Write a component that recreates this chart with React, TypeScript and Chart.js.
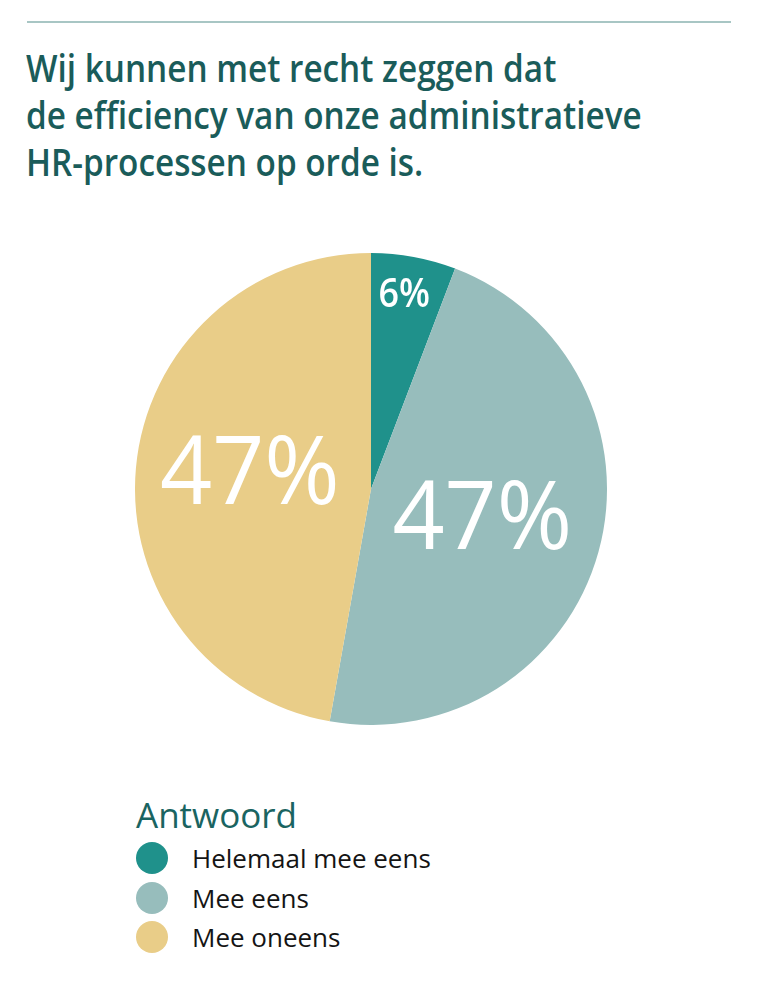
import React, { useEffect, useRef } from "react";
import { Chart, registerables } from "chart.js";

Chart.register(...registerables);

const titleLines = [
  "Wij kunnen met recht zeggen dat",
  "de efficiency van onze administratieve",
  "HR-processen op orde is.",
];
const legendTitle = "Antwoord";
const categories = ["Helemaal mee eens", "Mee eens", "Mee oneens"];
const values = [5.8, 47.0, 47.2];
const valueLabels = ["6%", "47%", "47%"];
const colors = ["#1F918B", "#97BDBC", "#E9CD88"];

const labelRadius = [0.841, 0.484, 0.52];
const labelAngleShift = [-0.8, -2.5, 4.2];
const labelFontSize = [39, 96, 96];
const labelFontWeight = [600, 400, 400];
const labelScaleX = [0.92, 0.95, 0.95];

const FONT = "'Open Sans', 'Noto Sans', sans-serif";

const sliceLabels = {
  id: "sliceLabels",
  afterDatasetsDraw(chart: any) {
    const ctx = chart.ctx;
    const meta = chart.getDatasetMeta(0);
    meta.data.forEach((arc: any, i: number) => {
      const p = arc.getProps(["x", "y", "startAngle", "endAngle", "outerRadius"], true);
      const mid = (p.startAngle + p.endAngle) / 2 + (labelAngleShift[i] * Math.PI) / 180;
      const r = p.outerRadius * labelRadius[i];
      const cx = p.x + Math.cos(mid) * r;
      const cy = p.y + Math.sin(mid) * r;
      const size = labelFontSize[i];
      ctx.save();
      ctx.translate(cx, cy);
      ctx.scale(labelScaleX[i], 1);
      ctx.fillStyle = "#ffffff";
      ctx.font = `${labelFontWeight[i]} ${size}px ${FONT}`;
      ctx.textAlign = "center";
      ctx.textBaseline = "alphabetic";
      ctx.fillText(valueLabels[i], 0, size * 0.357);
      ctx.restore();
    });
  },
};

function PieChart() {
  const ref = useRef<HTMLCanvasElement | null>(null);
  useEffect(() => {
    if (!ref.current) return;
    const chart = new Chart(ref.current, {
      type: "pie",
      data: {
        labels: categories,
        datasets: [
          {
            data: values,
            backgroundColor: colors,
            borderWidth: 0,
            hoverOffset: 0,
            offset: 0,
          },
        ],
      },
      options: {
        responsive: true,
        maintainAspectRatio: false,
        animation: false,
        layout: { padding: 0 },
        events: [],
        plugins: {
          legend: { display: false },
          tooltip: { enabled: false },
          title: { display: false },
        },
      },
      plugins: [sliceLabels],
    } as any);
    return () => chart.destroy();
  }, []);
  return <canvas ref={ref} />;
}

export default function App() {
  const titleColor = "#1A5C5A";
  return (
    <div
      style={{
        position: "absolute",
        left: 0,
        top: 0,
        width: 762,
        height: 998,
        background: "#ffffff",
        fontFamily: FONT,
        overflow: "hidden",
      }}
    >
      <div
        style={{
          position: "absolute",
          left: 27,
          top: 21,
          width: 704,
          height: 2,
          background: "#A8C6C4",
        }}
      />
      <div
        style={{
          position: "absolute",
          left: 26,
          top: 44,
          fontSize: 37,
          fontWeight: 600,
          lineHeight: "47px",
          color: titleColor,
          whiteSpace: "nowrap",
          transform: "scaleX(0.9)",
          transformOrigin: "left top",
        }}
      >
        {titleLines.map((l, i) => (
          <div key={i}>{l}</div>
        ))}
      </div>
      <div
        style={{
          position: "absolute",
          left: 135,
          top: 253,
          width: 472,
          height: 472,
        }}
      >
        <PieChart />
      </div>
      <div
        style={{
          position: "absolute",
          left: 136,
          top: 797,
          fontSize: 35,
          lineHeight: "35px",
          color: "#1A6461",
          whiteSpace: "nowrap",
        }}
      >
        {legendTitle}
      </div>
      {categories.map((c, i) => (
        <div
          key={c}
          style={{
            position: "absolute",
            left: 136,
            top: 858 + i * 39.5 - 20,
            height: 40,
            display: "flex",
            alignItems: "center",
            whiteSpace: "nowrap",
          }}
        >
          <div
            style={{
              width: 32,
              height: 32,
              borderRadius: "50%",
              background: colors[i],
              flex: "0 0 auto",
            }}
          />
          <div
            style={{
              marginLeft: 24,
              fontSize: 26,
              fontWeight: 500,
              lineHeight: "26px",
              color: "#141414",
            }}
          >
            {c}
          </div>
        </div>
      ))}
    </div>
  );
}
